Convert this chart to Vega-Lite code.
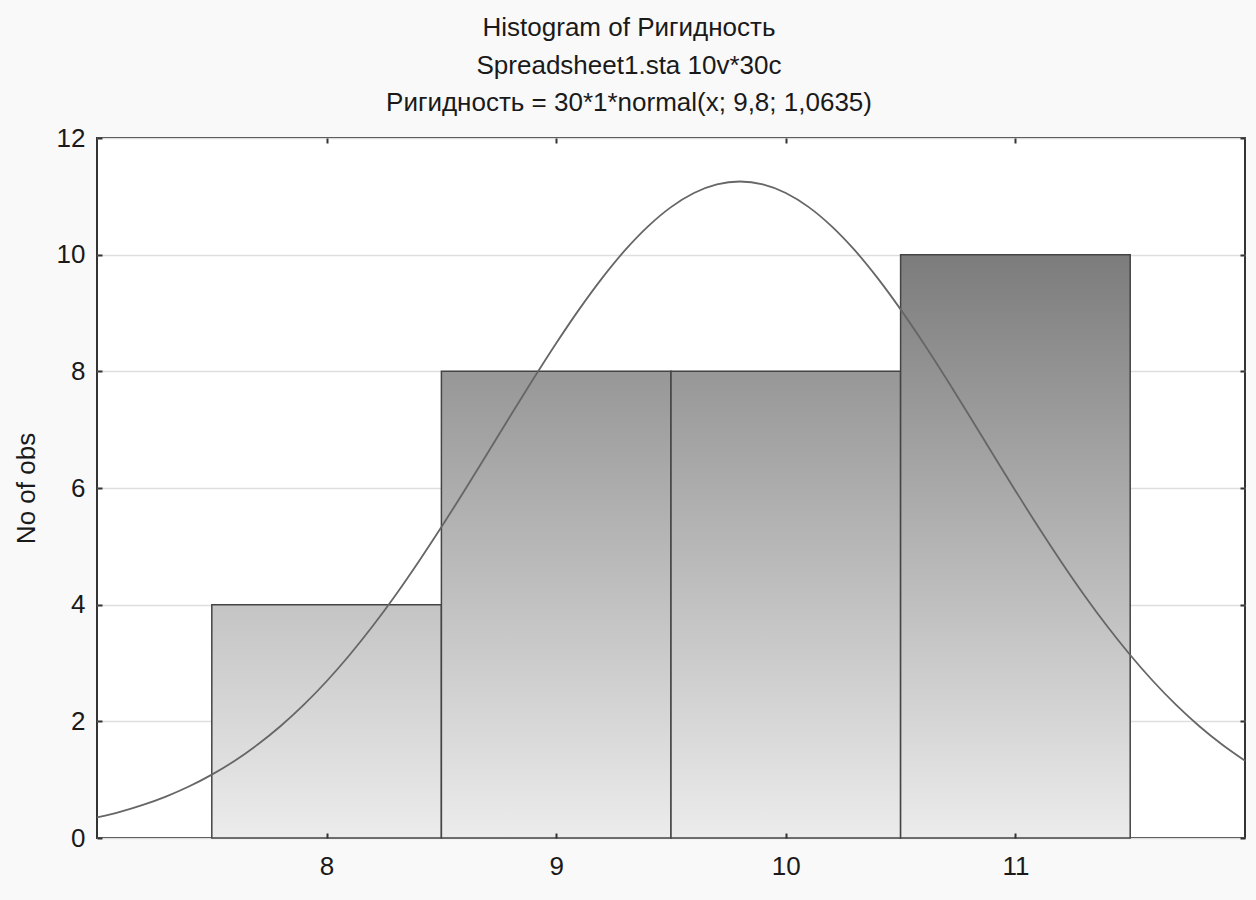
{
  "$schema": "https://vega.github.io/schema/vega-lite/v6.json",
  "autosize": {"type": "none"},
  "width": 1148,
  "height": 700,
  "padding": {"left": 97, "top": 138, "right": 11, "bottom": 62},
  "background": "#f9f9f9",
  "title": {
    "text": ["Histogram of Ригидность", "Spreadsheet1.sta 10v*30c", "Ригидность = 30*1*normal(x; 9,8; 1,0635)"],
    "anchor": "middle",
    "frame": "group",
    "dx": -42,
    "offset": -12,
    "baseline": "alphabetic",
    "fontSize": 26,
    "fontWeight": "normal",
    "lineHeight": 37.5,
    "color": "#1a1a1a",
    "font": "Liberation Sans"
  },
  "config": {
    "font": "Liberation Sans",
    "view": {"fill": "white", "stroke": "#333333", "strokeWidth": 2},
    "axis": {
      "labelFont": "Liberation Sans",
      "labelFontSize": 26,
      "labelColor": "#1a1a1a",
      "labelFlush": false,
      "labelOverlap": false,
      "titleFont": "Liberation Sans",
      "titleFontSize": 26,
      "titleFontWeight": "normal",
      "titleColor": "#1a1a1a",
      "domain": false,
      "tickColor": "#333333",
      "tickWidth": 2,
      "tickSize": -5,
      "gridColor": "#dedede",
      "gridWidth": 1.5
    }
  },
  "datasets": {
    "bins": [
      {"start": 7.5, "end": 8.5, "count": 4},
      {"start": 8.5, "end": 9.5, "count": 8},
      {"start": 9.5, "end": 10.5, "count": 8},
      {"start": 10.5, "end": 11.5, "count": 10}
    ],
    "curve": [
      {"x": 7.0, "y": 0.352}, {"x": 7.1, "y": 0.448}, {"x": 7.2, "y": 0.567}, {"x": 7.3, "y": 0.710},
      {"x": 7.4, "y": 0.882}, {"x": 7.5, "y": 1.086}, {"x": 7.6, "y": 1.324}, {"x": 7.7, "y": 1.602},
      {"x": 7.8, "y": 1.920}, {"x": 7.9, "y": 2.281}, {"x": 8.0, "y": 2.687}, {"x": 8.1, "y": 3.137},
      {"x": 8.2, "y": 3.629}, {"x": 8.3, "y": 4.162}, {"x": 8.4, "y": 4.732}, {"x": 8.5, "y": 5.331},
      {"x": 8.6, "y": 5.954}, {"x": 8.7, "y": 6.592}, {"x": 8.8, "y": 7.233}, {"x": 8.9, "y": 7.867},
      {"x": 9.0, "y": 8.481}, {"x": 9.1, "y": 9.062}, {"x": 9.2, "y": 9.598}, {"x": 9.3, "y": 10.077},
      {"x": 9.4, "y": 10.485}, {"x": 9.5, "y": 10.815}, {"x": 9.6, "y": 11.057}, {"x": 9.7, "y": 11.204},
      {"x": 9.8, "y": 11.254}, {"x": 9.9, "y": 11.204}, {"x": 10.0, "y": 11.057}, {"x": 10.1, "y": 10.815},
      {"x": 10.2, "y": 10.485}, {"x": 10.3, "y": 10.077}, {"x": 10.4, "y": 9.598}, {"x": 10.5, "y": 9.062},
      {"x": 10.6, "y": 8.481}, {"x": 10.7, "y": 7.867}, {"x": 10.8, "y": 7.233}, {"x": 10.9, "y": 6.592},
      {"x": 11.0, "y": 5.954}, {"x": 11.1, "y": 5.331}, {"x": 11.2, "y": 4.732}, {"x": 11.3, "y": 4.162},
      {"x": 11.4, "y": 3.629}, {"x": 11.5, "y": 3.137}, {"x": 11.6, "y": 2.687}, {"x": 11.7, "y": 2.281},
      {"x": 11.8, "y": 1.920}, {"x": 11.9, "y": 1.602}, {"x": 12.0, "y": 1.324}
    ]
  },
  "resolve": {"axis": {"x": "independent", "y": "independent"}},
  "layer": [
    {
      "data": {"name": "bins"},
      "transform": [{"filter": "datum.count == 4"}],
      "mark": {
        "type": "bar",
        "stroke": "#444444",
        "strokeWidth": 1.5,
        "fill": {"gradient": "linear", "x1": 0, "y1": 0, "x2": 0, "y2": 1,
          "stops": [{"offset": 0, "color": "#c4c4c4"}, {"offset": 1, "color": "#ececec"}]}
      },
      "encoding": {
        "x": {"field": "start", "type": "quantitative",
          "scale": {"domain": [7, 12], "nice": false, "zero": false},
          "axis": {"orient": "top", "values": [8, 9, 10, 11], "labels": false, "grid": false, "title": null, "zindex": 1}},
        "x2": {"field": "end"},
        "y": {"field": "count", "type": "quantitative",
          "scale": {"domain": [0, 12], "nice": false},
          "axis": {"orient": "left", "values": [0, 2, 4, 6, 8, 10, 12], "grid": true, "title": "No of obs",
            "labelPadding": 17, "titlePadding": 17, "zindex": 0}},
        "y2": {"datum": 0}
      }
    },
    {
      "data": {"name": "bins"},
      "transform": [{"filter": "datum.count == 8"}],
      "mark": {
        "type": "bar",
        "stroke": "#444444",
        "strokeWidth": 1.5,
        "fill": {"gradient": "linear", "x1": 0, "y1": 0, "x2": 0, "y2": 1,
          "stops": [{"offset": 0, "color": "#979797"}, {"offset": 1, "color": "#ececec"}]}
      },
      "encoding": {
        "x": {"field": "start", "type": "quantitative", "axis": null},
        "x2": {"field": "end"},
        "y": {"field": "count", "type": "quantitative", "axis": null},
        "y2": {"datum": 0}
      }
    },
    {
      "data": {"name": "bins"},
      "transform": [{"filter": "datum.count == 10"}],
      "mark": {
        "type": "bar",
        "stroke": "#444444",
        "strokeWidth": 1.5,
        "fill": {"gradient": "linear", "x1": 0, "y1": 0, "x2": 0, "y2": 1,
          "stops": [{"offset": 0, "color": "#7c7c7c"}, {"offset": 1, "color": "#ececec"}]}
      },
      "encoding": {
        "x": {"field": "start", "type": "quantitative", "axis": null},
        "x2": {"field": "end"},
        "y": {"field": "count", "type": "quantitative", "axis": null},
        "y2": {"datum": 0}
      }
    },
    {
      "data": {"name": "curve"},
      "mark": {"type": "line", "color": "#666666", "strokeWidth": 1.8, "interpolate": "monotone"},
      "encoding": {
        "x": {"field": "x", "type": "quantitative",
          "axis": {"orient": "bottom", "values": [8, 9, 10, 11], "grid": false, "title": null, "labelPadding": 20, "zindex": 1}},
        "y": {"field": "y", "type": "quantitative",
          "axis": {"orient": "right", "values": [0, 2, 4, 6, 8, 10, 12], "labels": false, "grid": false, "title": null, "zindex": 1}}
      }
    }
  ]
}
